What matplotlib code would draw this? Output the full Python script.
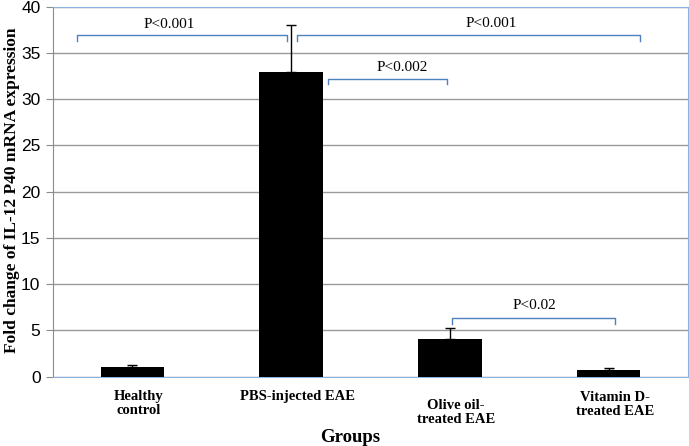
import matplotlib
matplotlib.use("Agg")
import matplotlib.pyplot as plt

groups = ["Healthy\ncontrol", "PBS-injected EAE", "Olive oil-\ntreated EAE", "Vitamin D-\ntreated EAE"]
fold_change = [1.0, 32.9, 4.05, 0.72]
err_upper = [0.3, 5.15, 1.25, 0.22]

# label offsets below axis (pixels): the olive-oil label sits a bit lower
label_drop = [13, 13, 22, 14]

# significance brackets: (x start, x end, y, label, label x, label y)
brackets = [
    (-0.347, 0.977, 36.9, "P<0.001", 0.23, 38.1),
    (1.04, 3.20, 36.9, "P<0.001", 2.26, 38.2),
    (1.23, 1.985, 32.2, "P<0.002", 1.70, 33.4),
    (2.015, 3.04, 6.3, "P<0.02", 2.53, 7.75),
]

fig = plt.figure(figsize=(6.89, 4.46), dpi=100)
ax = fig.add_axes([53 / 689, 69.3 / 446, 635 / 689, 370 / 446])

x = list(range(len(groups)))
ax.bar(x, fold_change, width=0.4, color="black", zorder=3)
ax.errorbar(x, fold_change, yerr=[[0] * 4, err_upper], fmt="none",
            ecolor="black", elinewidth=1, capsize=3.5, capthick=1, zorder=4)

ax.set_xlim(-0.5, 3.5)
ax.set_ylim(0, 40)
ax.set_yticks(range(0, 41, 5))
ax.yaxis.grid(True, color="#9a9a9a", linewidth=1)
ax.set_axisbelow(True)

blue = "#4f81bd"
for s in ["top", "right", "bottom"]:
    ax.spines[s].set_color("#8db3e2")
ax.spines["left"].set_color("#8c8c8c")

ax.set_xticks([])
ax.tick_params(axis="y", length=5, color="#8c8c8c", labelsize=12.5, pad=4)
for t in ax.get_yticklabels():
    t.set_fontfamily("Liberation Sans")

for xi, g, d in zip(x, groups, label_drop):
    ax.annotate(g, xy=(xi + 0.04, 0), xycoords=("data", "axes fraction"),
                xytext=(0, -d), textcoords="offset pixels", ha="center", va="top",
                multialignment="center", fontsize=10.5, fontweight="bold",
                family="Liberation Serif", linespacing=1.15)

tick = 0.6
for x1, x2, y, lab, tx, ty in brackets:
    ax.plot([x1, x1, x2, x2], [y - tick, y, y, y - tick], color=blue,
            linewidth=1, zorder=5, clip_on=False)
    ax.text(tx, ty, lab, ha="center", va="center", fontsize=11,
            family="Liberation Serif", zorder=5)

fig.text(350 / 689, 1 - 437 / 446, "Groups", ha="center", va="center",
         fontsize=13.5, fontweight="bold", family="Liberation Serif")
fig.text(12 / 689, 1 - 190 / 446, "Fold change of IL-12 P40 mRNA expression",
         ha="center", va="center", rotation=90, fontsize=12.5, fontweight="bold",
         family="Liberation Serif")

fig.savefig("out.png", dpi=100)
